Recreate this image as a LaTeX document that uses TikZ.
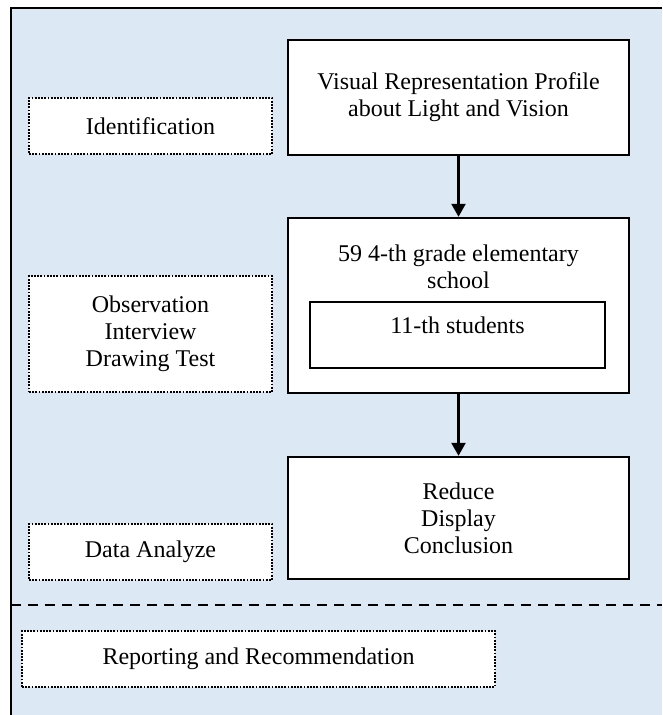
\documentclass[tikz,border=0pt]{standalone}
\usepackage{fontspec}
\setmainfont{Liberation Serif}
\usetikzlibrary{arrows.meta}
\definecolor{panel}{RGB}{221,232,245}
\begin{document}
\begin{tikzpicture}[x=0.5pt, y=-0.5pt, font=\fontsize{12}{13.6}\selectfont,
		main/.style = {draw, line width=1.2pt, fill=white, align=center, minimum width=170.5pt},
		side/.style = {draw, line width=1.4pt, dash pattern=on 0.9pt off 0.7pt, fill=white, align=center, minimum width=121.5pt, minimum height=28pt}]
		\useasboundingbox (0,0) rectangle (662,715);
		\fill[panel] (11,8) rectangle (662,715);
		\draw[line width=1.1pt] (662,8) -- (11,8) -- (11,715);
		\draw[line width=1.2pt, dash pattern=on 5pt off 3.5pt] (11,605) -- (662,605);
		% main flow
		\node[main, minimum height=57.5pt] (1) at (458.5,97.5) {Visual Representation Profile\\about Light and Vision};
		\node[main, minimum height=87.5pt] (2) at (458.5,305.5) {};
		\node[align=center, anchor=north, inner sep=0pt] (2t) at (458.5,244) {59 4-th grade elementary\\school};
		\node[draw, line width=1.2pt, minimum width=147.5pt, minimum height=33pt, inner sep=4pt, text height=12pt, text depth=13pt] (2s) at (457.5,335) {11-th students};
		\node[main, minimum height=61pt] (3) at (458.5,518) {Reduce\\Display\\Conclusion};
		\draw[line width=1.2pt, -{Triangle[width=7pt,length=6.5pt]}] (1) -- (2);
		\draw[line width=1.2pt, -{Triangle[width=7pt,length=6.5pt]}] (2) -- (3);
		% steps
		\node[side] (a) at (150.5,126) {Identification};
		\node[side, minimum height=58pt] (b) at (150.5,334) {Observation\\Interview\\Drawing Test};
		\node[side] (c) at (150.5,552) {Data Analyze};
		\node[side, minimum width=236.5pt] (d) at (258.5,659) {Reporting and Recommendation};
	\end{tikzpicture}
\end{document}
